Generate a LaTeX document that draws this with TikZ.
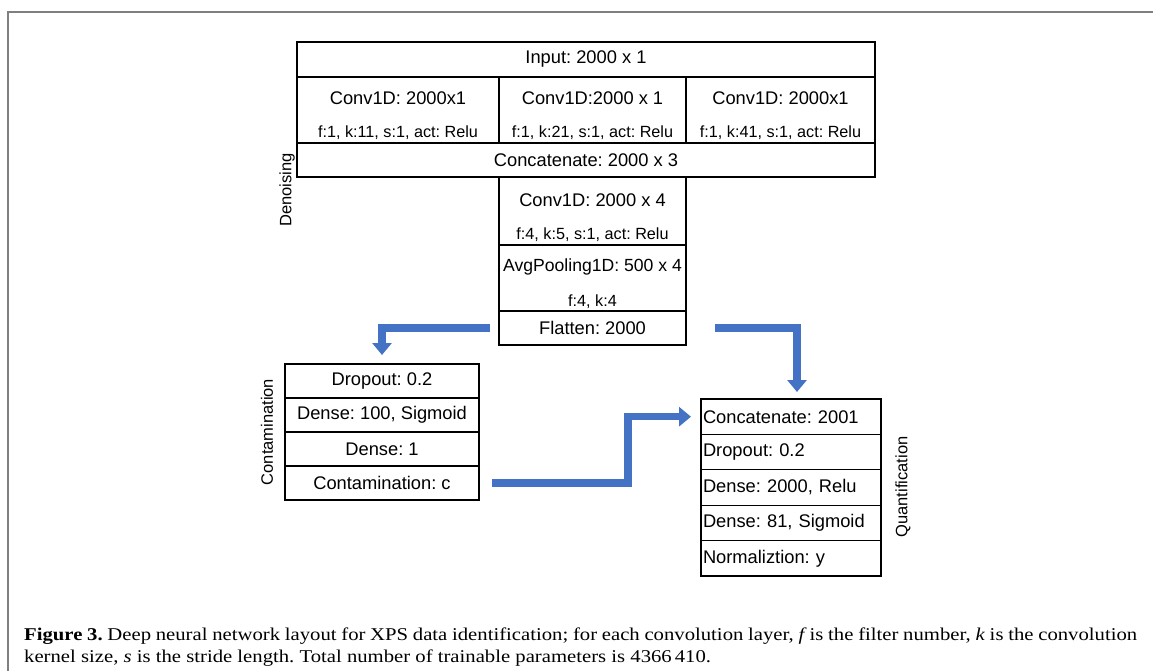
\documentclass[tikz,border=0pt]{standalone}
\usepackage{fontspec}
\setmainfont{Liberation Serif}
\setsansfont{Liberation Sans}
\newfontfamily\capfont[FakeStretch=1.15]{Liberation Serif}
\usetikzlibrary{positioning,arrows.meta}
\definecolor{flowblue}{RGB}{68,114,196}
\definecolor{framegray}{RGB}{128,128,128}
\frenchspacing

\tikzset{
  layer/.style={draw, line width=1.3pt, outer sep=0pt, inner sep=0pt,
    font=\sffamily\fontsize{18.3}{22}\selectfont},
  qrow/.style={layer, text width=176pt, inner xsep=2pt, align=left, minimum height=35.4pt},
  lbl/.style={inner sep=0pt, font=\sffamily\fontsize{18.3}{22}\selectfont},
  parm/.style={inner sep=0pt, font=\sffamily\fontsize{16.2}{19}\selectfont},
  side/.style={rotate=90, inner sep=0pt, font=\sffamily\fontsize{16.5}{20}\selectfont},
  flow/.style={flowblue, line width=7.5pt, -{Triangle[width=19pt,length=12pt]}}
}

\begin{document}
\begin{tikzpicture}[x=1pt,y=-1pt]
\useasboundingbox (0,0) rectangle (1153,671);
\draw[framegray, line width=2pt] (8,671) -- (8,12) -- (1153,12);

% denoising part
\node[layer, minimum width=578pt, minimum height=35pt] (inp) at (586,59.5) {Input: 2000 x 1};
\node[layer, anchor=north west, minimum width=202pt, minimum height=66pt] (cva) at (inp.south west) {};
\node[layer, anchor=north west, minimum width=187pt, minimum height=66pt] (cvb) at (cva.north east) {};
\node[layer, anchor=north west, minimum width=189pt, minimum height=66pt] (cvc) at (cvb.north east) {};
\node[lbl] (cvat) at ([yshift=-21pt]cva.north) {Conv1D: 2000x1};
\node[lbl] (cvbt) at ([yshift=-21pt]cvb.north) {Conv1D:2000 x 1};
\node[lbl] (cvct) at ([yshift=-21pt]cvc.north) {Conv1D: 2000x1};
\node[parm] (cvap) at ([yshift=10pt]cva.south) {f:1, k:11, s:1, act: Relu};
\node[parm] (cvbp) at ([yshift=10pt]cvb.south) {f:1, k:21, s:1, act: Relu};
\node[parm] (cvcp) at ([yshift=10pt]cvc.south) {f:1, k:41, s:1, act: Relu};
\node[layer, anchor=north west, minimum width=578pt, minimum height=34pt] (cat) at (cva.south west) {Concatenate: 2000 x 3};

\node[layer, anchor=north, minimum width=187pt, minimum height=68pt] (cv4) at (cvb.south |- cat.south) {};
\node[lbl] (cv4t) at ([yshift=-23pt]cv4.north) {Conv1D: 2000 x 4};
\node[parm] (cv4p) at ([yshift=10pt]cv4.south) {f:4, k:5, s:1, act: Relu};
\node[layer, below=0pt of cv4, minimum width=187pt, minimum height=66pt] (pool) {};
\node[lbl, font=\sffamily\fontsize{17.6}{22}\selectfont] (poolt) at ([yshift=-22pt]pool.north) {AvgPooling1D: 500 x 4};
\node[parm] (poolp) at ([yshift=9pt]pool.south) {f:4, k:4};
\node[layer, below=0pt of pool, minimum width=187pt, minimum height=34pt] (flat) {Flatten: 2000};
\node[side] (lden) at (287,190) {Denoising};

% contamination part
\node[layer, minimum width=194pt, minimum height=34pt] (cdrop) at (382,381) {Dropout: 0.2};
\node[layer, below=0pt of cdrop, minimum width=194pt, minimum height=34pt] (cdense) {Dense: 100, Sigmoid};
\node[layer, below=0pt of cdense, minimum width=194pt, minimum height=34pt] (cone) {Dense: 1};
\node[layer, below=0pt of cone, minimum width=194pt, minimum height=34pt] (cout) {Contamination: c};
\node[side] (lcon) at (267,432) {Contamination};

% quantification part
\node[qrow] (qcat) at (791,416.7) {Concatenate: 2001};
\node[qrow, below=0pt of qcat] (qdrop) {Dropout: 0.2};
\node[qrow, below=0pt of qdrop] (qbig) {Dense: 2000, Relu};
\node[qrow, below=0pt of qbig] (qsig) {Dense: 81, Sigmoid};
\node[qrow, below=0pt of qsig] (qnorm) {Normaliztion: y};
\node[side] (lqua) at (903,487) {Quantification};

\coordinate (bend) at (628,450);
\draw[flow] ([xshift=-9pt]flat.west) -| ([yshift=9pt]cdrop.north);
\draw[flow] ([xshift=29pt]flat.east) -| ([xshift=6pt,yshift=7pt]qcat.north);
\draw[flow] ([xshift=13pt]cout.east) -| (bend) |- ([xshift=-10pt]qcat.west);

\node[anchor=north west, text width=1113pt, align=justify, inner sep=0pt,
  font=\capfont\fontsize{18}{22}\selectfont] (capt) at (24,628)
  {\textbf{Figure 3.} Deep neural network layout for XPS data identification; for each convolution layer, \textit{f}\,is the filter number, \textit{k} is the convolution\linebreak
  kernel size, \textit{s} is the stride length. Total number of trainable parameters is 4366\,410.};
\end{tikzpicture}
\end{document}
